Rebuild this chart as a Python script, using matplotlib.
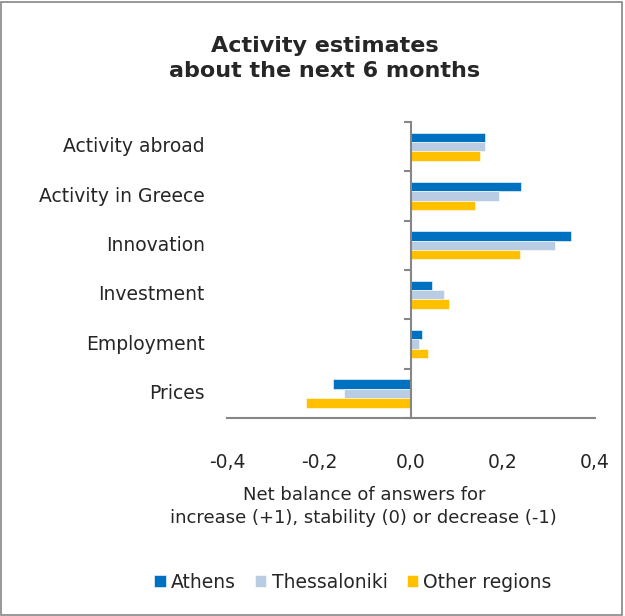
import matplotlib

matplotlib.use("Agg")
import matplotlib.pyplot as plt
import numpy as np
from matplotlib.patches import Rectangle
from matplotlib.ticker import FuncFormatter

CATEGORIES = ["Activity abroad", "Activity in Greece", "Innovation",
              "Investment", "Employment", "Prices"]
SERIES = ["Athens", "Thessaloniki", "Other regions"]
ATHENS = [0.162, 0.240, 0.348, 0.045, 0.023, -0.170]
THESSALONIKI = [0.162, 0.192, 0.314, 0.071, 0.018, -0.145]
OTHER = [0.149, 0.140, 0.236, 0.083, 0.036, -0.227]
X_TICKS = [-0.4, -0.2, 0.0, 0.2, 0.4]

COLORS = ["#0070C0", "#B8CCE4", "#FFC000"]
AXIS_GRAY = "#868686"
TEXT = "#262626"

plt.rcParams["font.family"] = ["DejaVu Sans"]

fig = plt.figure(figsize=(6.25, 6.16), dpi=100)
ax = fig.add_axes([0.363, 0.321, 0.589, 0.481])

n = len(CATEGORIES)
pos = np.arange(n)[::-1]  # first category on top
bar_h = 0.19
for i, (name, vals) in enumerate(zip(SERIES, [ATHENS, THESSALONIKI, OTHER])):
    ax.barh(pos + (1 - i) * bar_h, vals, height=bar_h, color=COLORS[i],
            edgecolor="white", linewidth=0.4, label=name, zorder=2)

ax.set_xlim(-0.4, 0.4)
ax.set_ylim(-0.5, n - 0.5)
ax.set_xticks(X_TICKS)
ax.xaxis.set_major_formatter(FuncFormatter(lambda v, _: f"{v:.1f}".replace(".", ",")))
ax.tick_params(axis="x", length=0, pad=25, labelsize=13.5, colors=TEXT)

# vertical axis sits at zero, ticks mark category boundaries
for side in ("top", "right"):
    ax.spines[side].set_visible(False)
ax.spines["left"].set_position(("data", 0))
ax.spines["left"].set_color(AXIS_GRAY)
ax.spines["left"].set_linewidth(1.5)
ax.spines["bottom"].set_color(AXIS_GRAY)
ax.spines["bottom"].set_linewidth(1.5)
ax.set_yticks(np.arange(n + 1) - 0.5)
ax.set_yticklabels([])
ax.tick_params(axis="y", length=5, width=1.5, color=AXIS_GRAY)

for p, label in zip(pos, CATEGORIES):
    ax.annotate(label, xy=(-0.4, p), xytext=(-16, 0), textcoords="offset points",
                ha="right", va="center", fontsize=13.5, color=TEXT)

ax.set_xlabel("Net balance of answers for\nincrease (+1), stability (0) or decrease (-1)",
              fontsize=13, color=TEXT, linespacing=1.4)
ax.xaxis.set_label_coords(0.372, -0.228, transform=ax.transAxes)
ax.xaxis.label.set_va("top")

fig.suptitle("Activity estimates\nabout the next 6 months", x=0.52, y=0.942,
             fontsize=16, fontweight="bold", color=TEXT, linespacing=1.35)

handles, labels = ax.get_legend_handles_labels()
fig.legend(handles, labels, loc="center", bbox_to_anchor=(0.565, 0.055), ncol=3,
           frameon=False, fontsize=13.5, handlelength=0.6, handleheight=0.6,
           handletextpad=0.3, columnspacing=1.0, labelcolor=TEXT)

fig.patches.append(Rectangle((0.002, 0.002), 0.993, 0.994, transform=fig.transFigure,
                             fill=False, edgecolor=AXIS_GRAY, linewidth=1.2))

fig.savefig("out.png", dpi=100)
